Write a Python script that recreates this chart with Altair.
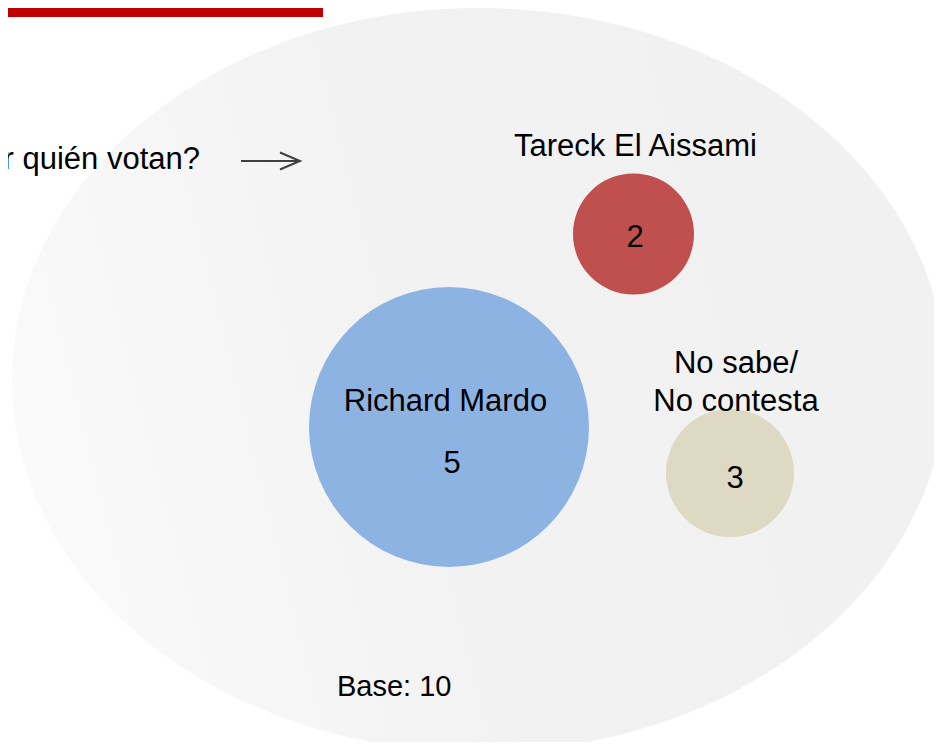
import altair as alt
import pandas as pd

# ---- data ----
names = ["Richard Mardo", "Tareck El Aissami", "No sabe/\nNo contesta"]
values = [5, 2, 3]
colors = ["#8db3e2", "#c0504d", "#ddd9c3"]
question = "¿Por quién votan?"

# ---- layout (screen coordinates of the reference) ----
bubble_x = [449, 633.5, 730]
bubble_y = [427, 234, 473]
bubble_d = [280, 121, 128]          # diameters, px
label_x = [445.5, 635.5, 736]
label_y = [411, 156, 373]            # baselines
num_x = [452, 635, 735]
num_y = [473, 247, 488]

W, H = 926, 734
FONT = "Liberation Sans"
FS = 31

df = pd.DataFrame({
    "name": names, "value": values,
    "bx": bubble_x, "by": bubble_y,
    "lx": label_x, "ly": label_y,
    "nx": num_x, "ny": num_y,
})

xs = alt.Scale(domain=[8, 8 + W], nice=False, zero=False)
ys = alt.Scale(domain=[8, 8 + H], nice=False, zero=False, reverse=True)

one = alt.Data(values=[{"k": 1}])

# background ellipse
ell_rx, ell_ry = 467, 372
ellipse_path = "M -1 0 A 1 {r} 0 1 1 1 0 A 1 {r} 0 1 1 -1 0 Z".format(r=round(ell_ry / ell_rx, 4))
grad = alt.LinearGradient(
    gradient="linear", x1=0, y1=0.6, x2=1, y2=0.4,
    stops=[alt.GradientStop(color="#fafafa", offset=0),
           alt.GradientStop(color="#f2f2f2", offset=0.45),
           alt.GradientStop(color="#f1f1f1", offset=1)],
)
background = alt.Chart(one).mark_point(
    shape=ellipse_path, size=(2 * ell_rx) ** 2, filled=True, fill=grad,
    opacity=1, strokeWidth=0,
).encode(
    x=alt.datum(479, scale=xs, axis=None),
    y=alt.datum(380, scale=ys, axis=None),
)

# red header bar
bar = alt.Chart(one).mark_rect(color="#c00000").encode(
    x=alt.datum(0, scale=xs, axis=None), x2=alt.datum(323),
    y=alt.datum(0, scale=ys, axis=None), y2=alt.datum(17),
)

# question text and arrow
qtext = alt.Chart(one).mark_text(
    text=question, align="right", baseline="alphabetic",
    font=FONT, fontSize=FS, color="#000000",
).encode(
    x=alt.datum(200, scale=xs, axis=None),
    y=alt.datum(169, scale=ys, axis=None),
)
arrow_line = alt.Chart(one).mark_rule(color="#404040", strokeWidth=2).encode(
    x=alt.datum(241, scale=xs, axis=None), x2=alt.datum(299),
    y=alt.datum(161, scale=ys, axis=None),
)
arrow_head = alt.Chart(one).mark_point(
    shape="M -1 -0.85 L 1 0 L -1 0.85", size=400, filled=False,
    color="#404040", strokeWidth=2, opacity=1,
).encode(
    x=alt.datum(290, scale=xs, axis=None),
    y=alt.datum(161, scale=ys, axis=None),
)

base = alt.Chart(df)

bubbles = base.mark_circle(opacity=1).encode(
    x=alt.X("bx:Q", scale=xs, axis=None),
    y=alt.Y("by:Q", scale=ys, axis=None),
    size=alt.Size("name:O", scale=alt.Scale(type="ordinal", domain=names,
                                            range=[d * d for d in bubble_d]), legend=None),
    color=alt.Color("name:N", scale=alt.Scale(domain=names, range=colors), legend=None),
)

name_labels = base.mark_text(
    align="center", baseline="alphabetic", font=FONT, fontSize=FS,
    color="#000000", lineBreak="\n", lineHeight=38,
).encode(
    x=alt.X("lx:Q", scale=xs, axis=None),
    y=alt.Y("ly:Q", scale=ys, axis=None),
    text="name:N",
)

num_labels = base.mark_text(
    align="center", baseline="alphabetic", font=FONT, fontSize=FS, color="#000000",
).encode(
    x=alt.X("nx:Q", scale=xs, axis=None),
    y=alt.Y("ny:Q", scale=ys, axis=None),
    text="value:Q",
)

base_text = base.transform_aggregate(
    total="sum(value)"
).transform_calculate(
    label="'Base: ' + datum.total"
).mark_text(
    align="left", baseline="alphabetic", font=FONT, fontSize=29, color="#000000",
).encode(
    x=alt.datum(337, scale=xs, axis=None),
    y=alt.datum(696, scale=ys, axis=None),
    text="label:N",
)

chart = alt.layer(
    background, bar, qtext, arrow_line, arrow_head,
    bubbles, name_labels, num_labels, base_text,
).properties(
    width=W, height=H, padding=0, autosize=alt.AutoSizeParams(type="none"),
    background="#ffffff",
).configure_view(stroke=None)

chart.save("out.html", embed_options={"renderer": "svg", "actions": False})
